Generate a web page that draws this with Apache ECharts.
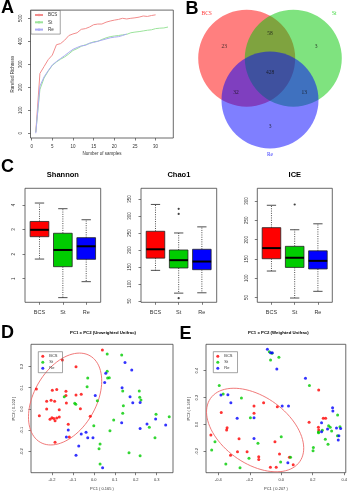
<!DOCTYPE html>
<html><head><meta charset="utf-8">
<script src="https://cdn.jsdelivr.net/npm/echarts@6/dist/echarts.min.js"></script>
<style>html,body{margin:0;padding:0;background:#fff}#c{width:350px;height:493px}</style>
</head><body><div id="c"></div>
<script>
// ---------- DATA ----------
// A: rarefaction curves (richness by number of samples, starting at 1)
const rareBCS = [5,260,290,320,340,385,390,405,425,432,437,452,455,462,472,475,475,483,488,492,495,500,497,500,502,505,510,508,512,515];
const rareSt  = [5,190,240,270,295,310,322,332,345,360,368,378,385,390,398,400,408,415,420,423,425,428,430,437,440,442,445,448,450,455,457,458,462];
const rareRe  = [0,205,245,272,297,312,325,338,352,365,373,380,382,392,395,400,405,410,415,418,420,425,432];
const rareXTicks = [0,5,10,15,20,25,30];
const rareYTicks = [0,100,200,300,400,500];

// B: Venn counts
const vennSets = ['BCS','St','Re'];
const vennRegions = ['BCS only','BCS∩St','St only','all','BCS∩Re','St∩Re','Re only'];
const vennCounts = [23,58,3,428,32,13,3];

// C: boxplot stats [min, Q1, median, Q3, max]
const boxGroups = ['BCS','St','Re'];
const shannonStats = [[1.80,2.71,2.99,3.33,4.08],[0.23,1.49,2.17,2.85,3.85],[0.88,1.79,2.32,2.67,3.40]];
const shannonOutliers = [];
const chao1Stats = [[140,176,202,255,334],[73,147,170,200,250],[74,142,166,202,268]];
const chao1Outliers = [[2,321],[2,306],[2,58]];
const iceStats = [[118.6,150.5,178,231,289],[48.7,128,153,182.6,225.6],[66,124,145,171,241]];
const iceOutliers = [[2,291]];
const shannonTicks = [1,2,3,4];
const chao1Ticks = [50,100,150,200,250,300,350];
const iceTicks = [50,100,150,200,250,300];

// D: PCoA unweighted UniFrac
const dBCS = [[-0.150,0.230],[-0.085,0.199],[-0.274,0.094],[-0.198,0.088],[-0.177,0.092],[-0.133,0.084],[-0.133,0.064],[-0.085,0.066],[-0.060,0.069],[-0.225,0.036],[-0.204,0.041],[-0.187,0.036],[-0.131,0.028],[-0.260,-0.031],[-0.225,0.000],[-0.165,-0.003],[-0.064,0.001],[-0.200,-0.041],[-0.191,-0.044],[-0.177,-0.042],[-0.165,-0.038],[-0.185,-0.055],[-0.209,-0.048],[-0.122,-0.072],[-0.017,-0.034],[-0.185,-0.156],[-0.117,-0.131],[0.041,0.277]];
const dSt = [[0.064,0.258],[0.133,0.254],[-0.029,0.146],[0.064,0.178],[0.066,0.146],[0.074,0.147],[-0.032,0.105],[-0.141,0.058],[-0.091,0.027],[-0.086,0.022],[0.138,0.085],[0.217,0.085],[0.219,0.055],[0.225,0.042],[0.141,0.015],[0.138,-0.020],[0.095,-0.052],[0.077,-0.102],[0.265,-0.086],[0.168,-0.205],[0.030,-0.164],[0.025,-0.186],[0.030,-0.258],[0.297,-0.025],[0.360,-0.036],[0.292,-0.135],[0.221,-0.219],[0.000,-0.078],[0.017,0.039]];
const dRe = [[0.149,0.219],[0.057,0.168],[0.052,0.125],[0.007,0.064],[0.186,0.030],[0.221,0.031],[-0.122,-0.099],[-0.037,-0.109],[-0.060,-0.117],[-0.131,-0.131],[-0.029,-0.135],[-0.004,-0.135],[-0.072,-0.174],[-0.085,-0.217],[0.042,-0.276],[0.221,-0.091],[0.254,-0.070],[0.181,0.183],[0.295,-0.047],[0.343,-0.075],[0.173,0.058],[0.135,0.100],[0.133,-0.064]];
const dEllipse = [[-0.137,0.047,0.119,0.203,-0.128,0.073]]; // center, conjugate semi-axes
const dXTicks = [-0.3,-0.2,-0.1,0,0.1,0.2,0.3];
const dYTicks = [-0.3,-0.2,-0.1,0,0.1,0.2];

// E: PCoA weighted UniFrac
const eBCS = [[0.238,0.256],[-0.381,0.090],[-0.173,0.138],[-0.173,0.083],[-0.112,0.162],[-0.025,0.132],[0.177,0.016],[0.267,0.046],[0.282,0.046],[-0.344,-0.024],[-0.347,-0.041],[-0.447,-0.078],[-0.268,-0.106],[-0.040,-0.128],[-0.278,-0.202],[-0.217,-0.202],[-0.143,-0.239],[-0.143,-0.259],[-0.011,-0.219],[0.052,-0.244],[-0.322,-0.229],[-0.069,-0.318],[-0.032,-0.318],[0.076,-0.299],[0.236,-0.021],[0.238,-0.041]];
const eSt = [[-0.076,0.541],[-0.059,0.529],[-0.068,0.480],[-0.015,0.500],[0.179,0.289],[-0.394,0.289],[-0.369,0.227],[-0.253,0.197],[-0.196,0.051],[0.000,-0.091],[-0.421,-0.128],[-0.442,-0.190],[-0.148,-0.140],[-0.205,-0.251],[-0.004,-0.279],[0.059,-0.244],[-0.352,-0.294],[-0.262,-0.321],[0.204,-0.170],[0.202,-0.195],[0.236,-0.056],[0.261,-0.043],[0.280,-0.110],[0.297,-0.147],[0.311,-0.021],[0.320,-0.048],[0.301,-0.009],[0.358,0.071],[0.373,-0.016],[0.357,-0.083],[0.237,-0.061]];
const eRe = [[-0.088,0.559],[-0.068,0.534],[-0.057,0.534],[-0.028,0.413],[0.154,0.343],[-0.383,0.219],[-0.339,0.222],[-0.320,0.162],[0.006,0.138],[0.046,0.138],[-0.280,0.046],[-0.173,0.051],[-0.173,-0.103],[0.326,0.125],[0.328,0.100],[0.256,-0.053],[0.294,-0.034],[0.377,-0.029],[0.366,-0.083],[0.042,-0.284],[0.256,0.013],[0.362,-0.115],[0.351,-0.026]];
const eEllipse = [[-0.166,-0.041,0.284,-0.234,0.121,0.204]];
const eXTicks = [-0.4,-0.2,0,0.2,0.4];
const eYTicks = [-0.2,0,0.2,0.4];

// ---------- STYLE / LAYOUT ----------
const FONT = 'Liberation Sans, Arial, sans-serif';
const SERIF = 'Liberation Serif, DejaVu Serif, serif';
const rareColors = ['#F28C8C','#9BE39B','#AAAAF2'];
const groupColors = ['#FF0000','#00CC00','#0000FF'];
const vennFill = ['rgba(255,0,0,0.5)','rgba(0,200,0,0.5)','rgba(0,0,255,0.5)'];
const vennCircles = [[71.7,58.3,48.5,0],[118.3,58.3,48.5,1],[95,100,48.5,2]];
const vennSetLabelPos = [[31.7,14],[159.3,14],[95,155]];
const vennCountPos = [[49.3,46.7],[95,34],[141,46.7],[95,72.7],[61,92.7],[129.3,92.7],[95,126.7]];

function vAxis(gi, min, max, ticks, o) {
  o = o || {};
  return {
    type:'value', gridIndex:gi, min:min, max:max,
    axisLine:{show:false, onZero:false}, splitLine:{show:false},
    axisTick:{show:true, customValues:ticks, length:o.tickLen||2.5, lineStyle:{color:'#444', width:0.7}},
    axisLabel:{customValues:ticks, fontSize:o.fs||4.5, color:'#333', margin:o.margin||6,
      rotate:o.rotate||0, formatter:o.fmt, fontFamily:FONT},
    name:o.name||'', nameLocation:'middle', nameGap:o.nameGap||10, nameRotate:o.nameRotate,
    nameTextStyle:{fontSize:o.nameFs||4.5, color:'#333', fontFamily:FONT}
  };
}
const f1 = v => (Math.abs(v) < 1e-9 ? 0 : v).toFixed(1);
const catFmt = v => boxGroups[Math.round(v)-1];

function boxRender(params, api) {
  const x = api.value(0);
  const lo = api.coord([x, api.value(1)]);
  const q1 = api.coord([x, api.value(2)]);
  const md = api.coord([x, api.value(3)]);
  const q3 = api.coord([x, api.value(4)]);
  const hi = api.coord([x, api.value(5)]);
  const hw = api.size([0.4, 0])[0];
  const cw = hw * 0.5;
  const cx = lo[0];
  const col = groupColors[params.dataIndex];
  const dash = {stroke:'#222', lineWidth:0.8, lineDash:[1,1.3]};
  const solid = {stroke:'#222', lineWidth:0.8};
  return {type:'group', children:[
    {type:'line', shape:{x1:cx,y1:q3[1],x2:cx,y2:hi[1]}, style:dash},
    {type:'line', shape:{x1:cx,y1:q1[1],x2:cx,y2:lo[1]}, style:dash},
    {type:'line', shape:{x1:cx-cw,y1:hi[1],x2:cx+cw,y2:hi[1]}, style:solid},
    {type:'line', shape:{x1:cx-cw,y1:lo[1],x2:cx+cw,y2:lo[1]}, style:solid},
    {type:'rect', shape:{x:cx-hw,y:q3[1],width:2*hw,height:q1[1]-q3[1]}, style:{fill:col, stroke:'#222', lineWidth:0.8}},
    {type:'line', shape:{x1:cx-hw,y1:md[1],x2:cx+hw,y2:md[1]}, style:{stroke:'#000', lineWidth:2}}
  ]};
}
function ellipseRender(params, api) {
  const c = [api.value(0), api.value(1)], u = [api.value(2), api.value(3)], v = [api.value(4), api.value(5)];
  const pts = [];
  for (let i = 0; i <= 90; i++) {
    const t = i / 90 * Math.PI * 2;
    pts.push(api.coord([c[0] + u[0]*Math.cos(t) + v[0]*Math.sin(t), c[1] + u[1]*Math.cos(t) + v[1]*Math.sin(t)]));
  }
  return {type:'polyline', shape:{points:pts}, style:{fill:null, stroke:'#EE6B6B', lineWidth:0.9}};
}
function vennRender(params, api) {
  const p = api.coord([api.value(0), api.value(1)]);
  const r = api.size([api.value(2), 0])[0];
  return {type:'circle', shape:{cx:p[0], cy:p[1], r:r}, style:{fill:vennFill[api.value(3)]}};
}

const frame = {show:true, borderColor:'#444', borderWidth:0.8, backgroundColor:'transparent'};
const grids = [
  Object.assign({left:30.5, top:10.1, width:142.8, height:127.9}, frame),   // A
  {left:175, top:0, width:175, height:160, show:false},                     // B
  Object.assign({left:25, top:188.3, width:75.7, height:114}, frame),       // Shannon
  Object.assign({left:141, top:188.3, width:75.7, height:114}, frame),      // Chao1
  Object.assign({left:257.3, top:188.3, width:75, height:114}, frame),      // ICE
  Object.assign({left:31, top:344.3, width:142, height:128.4}, frame),      // D
  Object.assign({left:206, top:344.3, width:140.7, height:128.4}, frame)    // E
];

const xAxes = [
  vAxis(0, -0.28, 34.28, rareXTicks, {margin:6, name:'Number of samples', nameGap:13}),
  {type:'value', gridIndex:1, min:0, max:175, show:false},
  vAxis(2, 0.38, 3.62, [1,2,3], {fs:5.5, margin:7, fmt:catFmt}),
  vAxis(3, 0.375, 3.64, [1,2,3], {fs:5.5, margin:7, fmt:catFmt}),
  vAxis(4, 0.39, 3.62, [1,2,3], {fs:5.5, margin:7, fmt:catFmt}),
  vAxis(5, -0.2998, 0.378, dXTicks, {fs:4, margin:5.5, fmt:f1, name:'PC1 ( 0.165 )', nameGap:14, nameFs:4}),
  vAxis(6, -0.478, 0.41, eXTicks, {fs:4, margin:5.5, fmt:f1, name:'PC1 ( 0.207 )', nameGap:14, nameFs:4})
];
const yAxes = [
  vAxis(0, -20.6, 535.6, rareYTicks, {rotate:90, margin:7, name:'Rarefied Richness', nameGap:15, nameRotate:90}),
  {type:'value', gridIndex:1, min:0, max:160, inverse:true, show:false},
  vAxis(2, 0.04, 4.68, shannonTicks, {rotate:90, margin:8.5}),
  vAxis(3, 46, 381.5, chao1Ticks, {rotate:90, margin:8.5}),
  vAxis(4, 37.6, 333, iceTicks, {rotate:90, margin:8.5}),
  vAxis(5, -0.299, 0.304, dYTicks, {rotate:90, fs:4, margin:7.5, fmt:f1, name:'PC2 ( 0.102 )', nameGap:15, nameRotate:90, nameFs:4}),
  vAxis(6, -0.358, 0.596, eYTicks, {rotate:90, fs:4, margin:7.5, fmt:f1, name:'PC2 ( 0.168 )', nameGap:15, nameRotate:90, nameFs:4})
];

const series = [];
// A
[[ 'BCS', rareBCS ], [ 'St', rareSt ], [ 'Re', rareRe ]].forEach(([n, arr], i) => {
  series.push({type:'line', name:n, xAxisIndex:0, yAxisIndex:0, symbol:'none', silent:true,
    lineStyle:{color:rareColors[i], width:1}, itemStyle:{color:rareColors[i]},
    data:arr.map((v, k) => [k + 1, v])});
});
// B
series.push({type:'custom', xAxisIndex:1, yAxisIndex:1, renderItem:vennRender, clip:false, silent:true, data:vennCircles});
series.push({type:'scatter', xAxisIndex:1, yAxisIndex:1, symbolSize:0, silent:true,
  data:vennSets.map((s, i) => ({value:vennSetLabelPos[i], name:s,
    label:{show:true, position:'inside', formatter:s, color:groupColors[i], fontSize:5.5, fontFamily:SERIF}}))});
series.push({type:'scatter', xAxisIndex:1, yAxisIndex:1, symbolSize:0, silent:true,
  data:vennCounts.map((c, i) => ({value:vennCountPos[i], name:vennRegions[i],
    label:{show:true, position:'inside', formatter:String(c), color:'#111', fontSize:5.5, fontFamily:SERIF}}))});
// C
[[shannonStats, shannonOutliers], [chao1Stats, chao1Outliers], [iceStats, iceOutliers]].forEach(([st, out], j) => {
  series.push({type:'custom', xAxisIndex:2 + j, yAxisIndex:2 + j, renderItem:boxRender, silent:true,
    encode:{x:0, y:[1,2,3,4,5]}, data:st.map((s, i) => [i + 1].concat(s))});
  series.push({type:'scatter', xAxisIndex:2 + j, yAxisIndex:2 + j, symbol:'circle', symbolSize:2.2, silent:true,
    itemStyle:{color:'#111'}, data:out});
});
// D, E
[[dBCS, dSt, dRe, dEllipse, 5, ' '], [eBCS, eSt, eRe, eEllipse, 6, '  ']].forEach(([a, b, c, el, gi, suf]) => {
  series.push({type:'custom', xAxisIndex:gi, yAxisIndex:gi, renderItem:ellipseRender, silent:true, clip:false, data:el});
  [a, b, c].forEach((arr, i) => {
    series.push({type:'scatter', name:boxGroups[i] + suf, xAxisIndex:gi, yAxisIndex:gi, symbol:'circle', symbolSize:3, silent:true,
      itemStyle:{color:groupColors[i]}, data:arr});
  });
});

const legendBase = {orient:'vertical', selectedMode:false, borderColor:'#666', borderWidth:0.6,
  textStyle:{fontSize:4.5, color:'#333', fontFamily:FONT}, formatter: n => n.trim()};
const legends = [
  Object.assign({}, legendBase, {left:31, top:10.5, data:['BCS','St','Re'], itemWidth:8, itemHeight:3, itemGap:2.3, padding:[2,3,2,3]}),
  Object.assign({}, legendBase, {left:38.3, top:351.7, data:['BCS ','St ','Re '], icon:'circle', itemWidth:3, itemHeight:3, itemGap:2, padding:[2.5,5,2.5,3], textStyle:{fontSize:4, color:'#333', fontFamily:FONT}}),
  Object.assign({}, legendBase, {left:213.3, top:351.7, data:['BCS  ','St  ','Re  '], icon:'circle', itemWidth:3, itemHeight:3, itemGap:2, padding:[2.5,5,2.5,3], textStyle:{fontSize:4, color:'#333', fontFamily:FONT}})
];

function txt(s, x, y, size, bold, align) {
  return {type:'text', x:x, y:y, silent:true, style:{text:s, fill:'#000', font:(bold ? 'bold ' : '') + size + 'px ' + FONT,
    textAlign:align || 'left', textVerticalAlign:'middle'}};
}
const graphics = [
  txt('A', 1, 8.5, 18, true), txt('B', 185.5, 9, 18, true), txt('C', 1, 167.5, 18, true),
  txt('D', 1, 333.5, 18, true), txt('E', 179.5, 334, 18, true),
  txt('Shannon', 62.9, 175, 7.5, true, 'center'), txt('Chao1', 178.9, 175, 7.5, true, 'center'), txt('ICE', 294.8, 175, 7.5, true, 'center'),
  txt('PC1 x PC2 (Unweighted Unifrac)', 103, 333.3, 4.3, true, 'center'),
  txt('PC1 x PC2 (Weighted Unifrac)', 278.3, 333.3, 4.3, true, 'center')
];

const chart = echarts.init(document.getElementById('c'), null, {renderer:'canvas'});
chart.setOption({animation:false, grid:grids, xAxis:xAxes, yAxis:yAxes, series:series, legend:legends, graphic:graphics});
</script></body></html>
